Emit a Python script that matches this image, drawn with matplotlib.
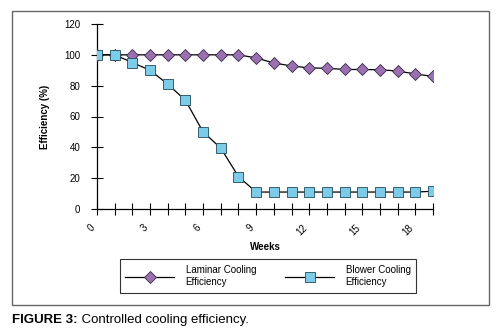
import numpy as np
import matplotlib
matplotlib.use('Agg')
import matplotlib.pyplot as plt
from matplotlib.patches import Rectangle

weeks = list(range(20))
laminar = [100, 100, 100, 100, 100, 100, 100, 100, 100, 98, 94.7, 92.8, 91.5, 91.3, 90.5, 90.5, 90.3, 89.5, 87.6, 86]
blower = [100, 100, 95, 90, 81, 70.5, 50, 39.5, 21, 11, 11, 11, 11, 11, 11, 11, 11, 11, 11, 11.5]
xticks = [0, 3, 6, 9, 12, 15, 18]
yticks = [0, 20, 40, 60, 80, 100, 120]

plt.rcParams['font.family'] = ['Liberation Sans', 'DejaVu Sans']

fig = plt.figure(figsize=(5, 3.35), dpi=100)
W, H = 500, 335

# outer frame of the chart
fig.patches.append(Rectangle((12 / W, 1 - 305 / H), 477 / W, 294 / H, transform=fig.transFigure,
                             fill=False, edgecolor='#666666', linewidth=1.0))

ax = fig.add_axes([97 / W, 1 - 209 / H, (433 - 97) / W, (209 - 24) / H])
ax.plot(weeks, laminar, color='black', linewidth=0.9, marker='D', markersize=6.5,
        markerfacecolor='#9a70b0', markeredgecolor='#3a2a48', markeredgewidth=0.6,
        label='Laminar Cooling\nEfficiency', zorder=3)
ax.plot(weeks, blower, color='black', linewidth=0.9, marker='s', markersize=7,
        markerfacecolor='#7ccbe8', markeredgecolor='#1f4a5a', markeredgewidth=0.6,
        label='Blower Cooling\nEfficiency', zorder=4)

ax.set_xlim(0, 19)
ax.set_ylim(0, 120)
ax.spines['top'].set_visible(False)
ax.spines['right'].set_visible(False)
for s in ['left', 'bottom']:
    ax.spines[s].set_linewidth(0.9)
ax.set_xticks(weeks)
ax.set_xticklabels([str(w) if w in xticks else '' for w in weeks], rotation=45, ha='right',
                   fontsize=7)
ax.set_yticks(yticks)
ax.set_yticklabels([str(v) for v in yticks], fontsize=7)
ax.tick_params(axis='x', direction='inout', length=8, width=0.8, pad=6)
ax.tick_params(axis='y', direction='inout', length=8, width=0.8, pad=8)
ax.set_xlabel('Weeks', fontsize=7, fontweight='bold', labelpad=3)
ax.set_ylabel('Efficiency (%)', fontsize=7, fontweight='bold', labelpad=10)
ax.patch.set_alpha(0)

leg = fig.legend(loc='center', bbox_to_anchor=(268 / W, 1 - 276 / H), ncol=2, fontsize=7,
                 frameon=True, fancybox=False, edgecolor='black', handlelength=5,
                 columnspacing=3, borderpad=0.6, handletextpad=1.2)
leg.get_frame().set_linewidth(0.8)

t = fig.text(12 / W, 1 - 320 / H, 'FIGURE 3:', fontsize=9.5, fontweight='bold', va='center')
ax.annotate(' Controlled cooling efficiency.', xy=(1, 0.5), xycoords=t, fontsize=9.5,
            va='center', ha='left', annotation_clip=False)

fig.savefig('out.png', dpi=100)
